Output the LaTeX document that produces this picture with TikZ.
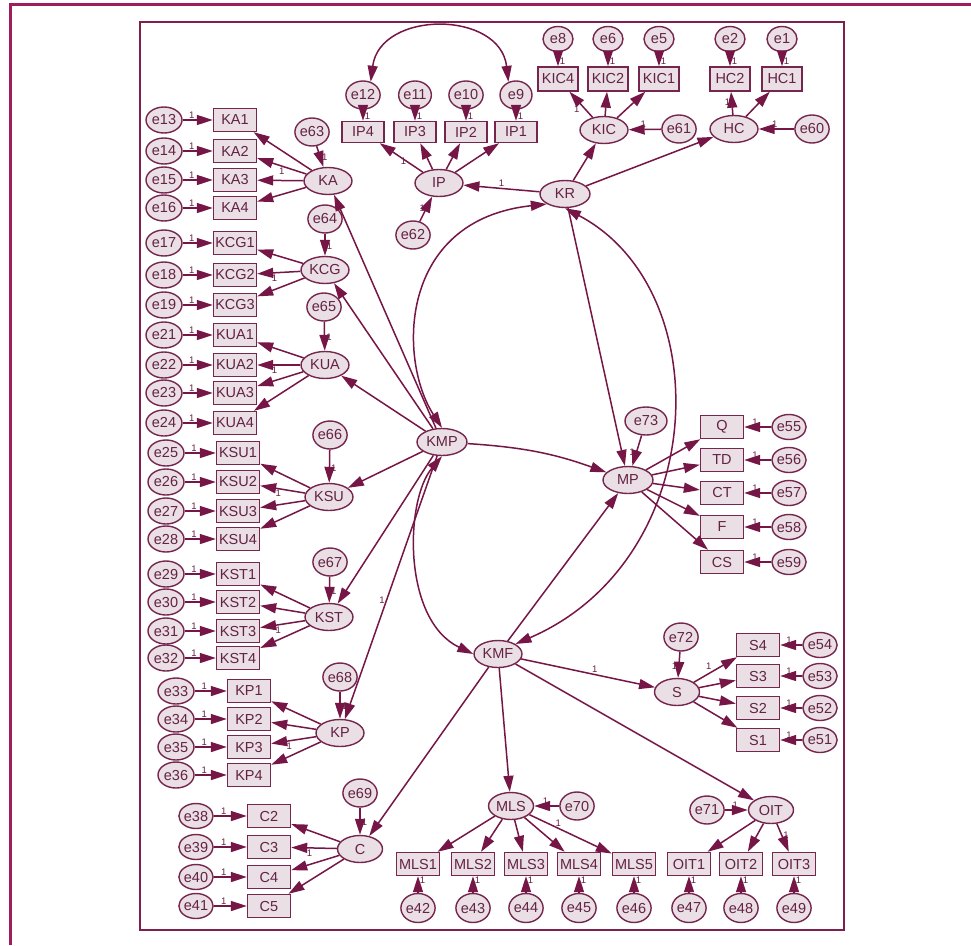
\documentclass[tikz,border=0pt]{standalone}
\usepackage{fontspec}
\setmainfont{Liberation Sans}
\usetikzlibrary{shapes.geometric,arrows.meta}
\definecolor{ac}{RGB}{118,22,70}
\definecolor{nb}{RGB}{118,38,78}
\definecolor{nf}{RGB}{233,223,228}
\definecolor{tx}{RGB}{100,34,68}
\definecolor{outerc}{RGB}{160,28,92}
\definecolor{innerc}{RGB}{125,32,80}
\newcommand{\mainf}{\fontsize{14.5}{16}\selectfont}
\newcommand{\onef}{\fontsize{9.5}{10}\selectfont}
\begin{document}
\begin{tikzpicture}[x=1pt,y=-1pt,
  base/.style={draw=nb, fill=nf, line width=1.4pt, text=tx, font=\mainf, inner sep=0pt},
  obs/.style={base, rectangle, minimum width=43pt, minimum height=23pt},
  lat/.style={base, ellipse, minimum width=48pt, minimum height=27pt},
  err/.style={base, ellipse, minimum width=32pt, minimum height=28pt},
  errl/.style={base, ellipse, minimum width=36pt, minimum height=26pt},
  errs/.style={base, ellipse, minimum width=30pt, minimum height=25pt},
  tip/.tip={Triangle[length=16pt,width=10pt]},
  arr/.style={draw=ac, line width=1.5pt, -tip},
  cov/.style={draw=ac, line width=1.5pt, tip-tip},
  one/.style={font=\onef, text=tx, inner sep=1pt}]
\useasboundingbox (0,0) rectangle (971,945);
\fill[white] (0,0) rectangle (971,945);
% frames
\draw[outerc, line width=2.8pt] (10.5,945) -- (10.5,4.5) -- (971,4.5);
\draw[innerc, line width=2pt] (140,22) rectangle (844,930);

% ---------- left indicators ----------
\foreach \e/\o/\y in {13/KA1/120,14/KA2/151,15/KA3/180,16/KA4/208,17/KCG1/243,18/KCG2/275,19/KCG3/305,21/KUA1/335,22/KUA2/365,23/KUA3/393,24/KUA4/423}{
  \node[obs] (\o) at (235,\y) {\o};
  \node[errl] (e\e) at (164,\y) {e\e};
  \draw[arr] (e\e) -- node[one,above,pos=0.3]{1} (\o);
}
\foreach \e/\o/\y in {25/KSU1/453,26/KSU2/482,27/KSU3/511,28/KSU4/539,29/KST1/574,30/KST2/602,31/KST3/631,32/KST4/658}{
  \node[obs] (\o) at (238,\y) {\o};
  \node[errl] (e\e) at (166,\y) {e\e};
  \draw[arr] (e\e) -- node[one,above,pos=0.3]{1} (\o);
}
\foreach \e/\o/\y in {33/KP1/691,34/KP2/719,35/KP3/747,36/KP4/775}{
  \node[obs] (\o) at (249,\y) {\o};
  \node[errl] (e\e) at (176,\y) {e\e};
  \draw[arr] (e\e) -- node[one,above,pos=0.3]{1} (\o);
}
\foreach \e/\o/\y in {38/C2/816,39/C3/847,40/C4/877,41/C5/906}{
  \node[obs] (\o) at (269,\y) {\o};
  \node[errs, minimum width=32pt] (e\e) at (196,\y) {e\e};
  \draw[arr] (e\e) -- node[one,above,pos=0.3]{1} (\o);
}

% ---------- top indicators ----------
\foreach \e/\o/\x in {12/IP4/363,11/IP3/415,10/IP2/466,9/IP1/516}{
  \node[obs, minimum width=42pt, minimum height=21pt] (\o) at (\x,132) {\o};
  \node[err] (e\e) at (\x,95) {e\e};
  \draw[arr] (e\e) -- node[one,right,pos=0.6]{1} (\o);
}
\foreach \e/\o/\x in {8/KIC4/558,6/KIC2/608,5/KIC1/659,2/HC2/730,1/HC1/782}{
  \node[obs, minimum width=40pt, minimum height=24pt] (\o) at (\x,79) {\o};
  \node[errs] (e\e) at (\x,39) {e\e};
  \draw[arr] (e\e) -- node[one,right,pos=0.65]{1} (\o);
}

% ---------- right indicators ----------
\foreach \e/\o/\y in {55/Q/427,56/TD/460,57/CT/493,58/F/527,59/CS/562}{
  \node[obs] (\o) at (722,\y) {\o};
  \node[errs, minimum width=32pt] (e\e) at (789,\y) {e\e};
  \draw[arr] (e\e) -- node[one,above,pos=0.6]{1} (\o);
}
\foreach \e/\o/\y in {54/S4/645,53/S3/676,52/S2/708,51/S1/740}{
  \node[obs] (\o) at (758,\y) {\o};
  \node[errs, minimum width=33pt] (e\e) at (820,\y) {e\e};
  \draw[arr] (e\e) -- node[one,above,pos=0.6]{1} (\o);
}

% ---------- bottom indicators ----------
\foreach \e/\o/\x in {42/MLS1/418,43/MLS2/473,44/MLS3/526,45/MLS4/579,46/MLS5/634,47/OIT1/689,48/OIT2/741,49/OIT3/794}{
  \node[obs] (\o) at (\x,864) {\o};
  \node[err, minimum width=33pt, minimum height=29pt] (e\e) at (\x,908) {e\e};
  \draw[arr] (e\e) -- node[one,right,pos=0.75]{1} (\o);
}

% ---------- latent variables ----------
\node[lat] (KA) at (328,181) {KA};
\node[lat] (KCG) at (325,270) {KCG};
\node[lat] (KUA) at (325,365) {KUA};
\node[lat] (KSU) at (329,497) {KSU};
\node[lat] (KST) at (329,617) {KST};
\node[lat] (KP) at (340,733) {KP};
\node[lat, minimum width=45pt] (C) at (360,849) {C};
\node[lat] (IP) at (439,183) {IP};
\node[lat] (KIC) at (604,130) {KIC};
\node[lat] (HC) at (734,129) {HC};
\node[lat, minimum width=50pt] (KR) at (565,194) {KR};
\node[lat, minimum width=50pt] (KMP) at (442,442) {KMP};
\node[lat, minimum width=50pt] (MP) at (628,480) {MP};
\node[lat] (KMF) at (498,654) {KMF};
\node[lat, minimum width=45pt] (S) at (677,692) {S};
\node[lat, minimum width=45pt] (MLS) at (511,806) {MLS};
\node[lat, minimum width=45pt] (OIT) at (771,810) {OIT};

% ---------- disturbances ----------
\node[err] (e63) at (312,132) {e63};
\node[err] (e64) at (325,219) {e64};
\node[err] (e65) at (324,307) {e65};
\node[err] (e66) at (330,435) {e66};
\node[err] (e67) at (330,562) {e67};
\node[err] (e68) at (340,677) {e68};
\node[err] (e69) at (360,793) {e69};
\node[err, minimum width=31pt] (e62) at (413,235) {e62};
\node[err] (e61) at (679,129) {e61};
\node[err] (e60) at (812,129) {e60};
\node[err, minimum width=42pt] (e73) at (646,421) {e73};
\node[err] (e72) at (681,637) {e72};
\node[err] (e70) at (577,806) {e70};
\node[err] (e71) at (707,810) {e71};

\draw[arr] (e63) -- node[one,right,pos=0.55]{1} (KA);
\draw[arr] (e64) -- node[one,right,pos=0.55]{1} (KCG);
\draw[arr] (e65) -- node[one,right,pos=0.55]{1} (KUA);
\draw[arr] (e66) -- node[one,right,pos=0.55]{1} (KSU);
\draw[arr] (e67) -- node[one,right,pos=0.55]{1} (KST);
\draw[arr] (e68) -- node[one,right,pos=0.55]{1} (KP);
\draw[arr] (e69) -- node[one,right,pos=0.55]{1} (C);
\draw[arr] (e62) -- node[one,left,pos=0.55]{1} (IP);
\draw[arr] (e61) -- node[one,above,pos=0.55]{1} (KIC);
\draw[arr] (e60) -- node[one,above,pos=0.55]{1} (HC);
\draw[arr] (e73) -- node[one,left,pos=0.55]{1} (MP);
\draw[arr] (e72) -- node[one,left,pos=0.55]{1} (S);
\draw[arr] (e70) -- node[one,above,pos=0.55]{1} (MLS);
\draw[arr] (e71) -- node[one,above,pos=0.45]{1} (OIT);

% ---------- loadings ----------
\draw[arr] (KA) -- (KA1);
\draw[arr] (KA) -- node[one,below,pos=0.5]{1} (KA2);
\draw[arr] (KA) -- (KA3);
\draw[arr] (KA) -- (KA4);
\draw[arr] (KCG) -- (KCG1);
\draw[arr] (KCG) -- node[one,below,pos=0.6]{1} (KCG2);
\draw[arr] (KCG) -- (KCG3);
\draw[arr] (KUA) -- (KUA1);
\draw[arr] (KUA) -- node[one,below,pos=0.6]{1} (KUA2);
\draw[arr] (KUA) -- (KUA3);
\draw[arr] (KUA) -- (KUA4);
\draw[arr] (KSU) -- (KSU1);
\draw[arr] (KSU) -- node[one,below,pos=0.6]{1} (KSU2);
\draw[arr] (KSU) -- (KSU3);
\draw[arr] (KSU) -- (KSU4);
\draw[arr] (KST) -- (KST1);
\draw[arr] (KST) -- (KST2);
\draw[arr] (KST) -- node[one,below,pos=0.6]{1} (KST3);
\draw[arr] (KST) -- (KST4);
\draw[arr] (KP) -- (KP1);
\draw[arr] (KP) -- (KP2);
\draw[arr] (KP) -- node[one,below,pos=0.6]{1} (KP3);
\draw[arr] (KP) -- (KP4);
\draw[arr] (C) -- (C2);
\draw[arr] (C) -- node[one,below,pos=0.6]{1} (C3);
\draw[arr] (C) -- (C4);
\draw[arr] (C) -- (C5);
\draw[arr] (IP) -- node[one,below right,pos=0.55]{1} (IP4);
\draw[arr] (IP) -- (IP3);
\draw[arr] (IP) -- (IP2);
\draw[arr] (IP) -- (IP1);
\draw[arr] (KIC) -- node[one,below left,pos=0.5]{1} (KIC4);
\draw[arr] (KIC) -- (KIC2);
\draw[arr] (KIC) -- (KIC1);
\draw[arr] (HC) -- node[one,left,pos=0.55]{1} (HC2);
\draw[arr] (HC) -- (HC1);
\draw[arr] (MP) -- (Q);
\draw[arr] (MP) -- (TD);
\draw[arr] (MP) -- (CT);
\draw[arr] (MP) -- (F);
\draw[arr] (MP) -- (CS);
\draw[arr] (S) -- node[one,above left,pos=0.45]{1} (S4);
\draw[arr] (S) -- (S3);
\draw[arr] (S) -- (S2);
\draw[arr] (S) -- (S1);
\draw[arr] (MLS) -- (MLS1);
\draw[arr] (MLS) -- (MLS2);
\draw[arr] (MLS) -- (MLS3);
\draw[arr] (MLS) -- (MLS4);
\draw[arr] (MLS) -- node[one,above,pos=0.35]{1} (MLS5);
\draw[arr] (OIT) -- (OIT1);
\draw[arr] (OIT) -- (OIT2);
\draw[arr] (OIT) -- node[one,right,pos=0.4]{1} (OIT3);

% ---------- structural paths ----------
\draw[arr] (KR) -- node[one,above,pos=0.5]{1} (IP);
\draw[arr] (KR) -- (KIC);
\draw[arr] (KR) -- (HC);
\draw[arr] (KR) -- (MP);
\draw[arr] (KMP) -- (KA);
\draw[arr] (KMP) -- (KCG);
\draw[arr] (KMP) -- (KUA);
\draw[arr] (KMP) -- (KSU);
\draw[arr] (KMP) -- (KST);
\draw[arr] (KMP) -- node[one,left,pos=0.55]{1} (KP);
\draw[arr] (KMP) to[bend left=8] (MP);
\draw[arr] (KMF) -- (MP);
\draw[arr] (KMF) -- node[one,above,pos=0.55]{1} (S);
\draw[arr] (KMF) -- (MLS);
\draw[arr] (KMF) -- (OIT);
\draw[arr] (KMF) -- (C);

% ---------- covariances ----------
\draw[cov] (e12.60) .. controls (380,10) and (500,10) .. (e9.120);
\draw[cov] (KMP.north) .. controls (398,360) and (398,220) .. (KR.south west);
\draw[cov] (KR.south) .. controls (720,290) and (710,560) .. (KMF.north east);
\draw[cov] (KMP.south) .. controls (405,500) and (402,620) .. (KMF.west);
\end{tikzpicture}
\end{document}
